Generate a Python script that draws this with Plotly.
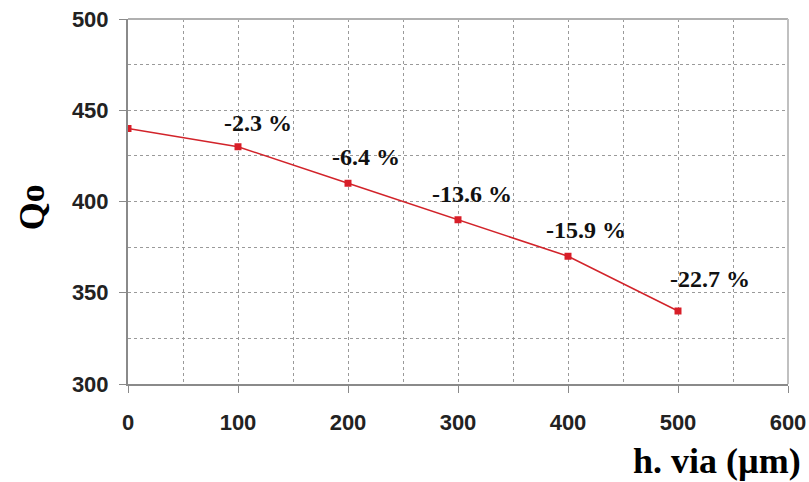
import plotly.graph_objects as go

# Via height (µm) vs unloaded quality factor
h_via = [0, 100, 200, 300, 400, 500]
q0 = [440, 430, 410, 390, 370, 340]
drop_labels = ["", "-2.3 %", "-6.4 %", "-13.6 %", "-15.9 %", "-22.7 %"]

x_ticks = [0, 100, 200, 300, 400, 500, 600]
y_ticks = [300, 350, 400, 450, 500]

# pixel offsets of each percentage label from its point
label_dx = [0, 20, 18, 14, 18, 32]
label_dy = [0, 24, 26, 26, 26, 32]

fig = go.Figure()
fig.add_trace(go.Scatter(
    x=h_via, y=q0, mode="lines+markers",
    line=dict(color="#d2232a", width=1.5),
    marker=dict(color="#d81e28", size=7, symbol="square"),
    showlegend=False,
))

for xv, yv, txt, dx, dy in zip(h_via, q0, drop_labels, label_dx, label_dy):
    if txt:
        fig.add_annotation(
            x=xv, y=yv, text=f"<b>{txt}</b>", showarrow=False,
            xanchor="center", yanchor="middle",
            xshift=dx, yshift=dy,
            font=dict(family="Liberation Serif", size=24, color="#111111"),
        )

grid = dict(showgrid=True, gridcolor="#9a9a9a", griddash="dot", gridwidth=1)
tick_font = dict(family="Liberation Sans", size=22, color="#222222", weight="bold")

fig.update_xaxes(
    range=[0, 600], tickvals=x_ticks, ticktext=[str(v) for v in x_ticks],
    ticks="outside", ticklen=7, tickcolor="#8a8a8a", tickwidth=1,
    ticklabelstandoff=11, tickfont=tick_font, automargin=False,
    showline=True, linecolor="#8a8a8a", linewidth=2,
    minor=dict(dtick=50, tick0=0, showgrid=True, gridcolor="#9a9a9a", griddash="dot"),
    zeroline=False,
    **grid,
)
fig.update_yaxes(
    range=[300, 500], tickvals=y_ticks, ticktext=[str(v) for v in y_ticks],
    ticks="outside", ticklen=7, tickcolor="#8a8a8a", tickwidth=1,
    ticklabelstandoff=6, tickfont=tick_font, automargin=False,
    showline=True, linecolor="#8a8a8a", linewidth=2,
    minor=dict(dtick=25, tick0=300, showgrid=True, gridcolor="#9a9a9a", griddash="dot"),
    zeroline=False,
    **grid,
)

# light frame on top and right
fig.add_shape(type="line", xref="paper", yref="paper", x0=0, x1=1, y0=1, y1=1,
              line=dict(color="#b0b0b0", width=2))
fig.add_shape(type="line", xref="paper", yref="paper", x0=1, x1=1, y0=0, y1=1,
              line=dict(color="#c0c0c0", width=2))

fig.add_annotation(
    xref="paper", yref="paper", x=-0.145, y=0.485, text="<b>Qo</b>",
    textangle=-90, showarrow=False, xanchor="center", yanchor="middle",
    font=dict(family="Liberation Serif", size=36, color="#000000"),
)
fig.add_annotation(
    xref="paper", yref="paper", x=1.023, y=-0.21, text="<b>h. via (µm)</b>",
    showarrow=False, xanchor="right", yanchor="middle",
    font=dict(family="Liberation Serif", size=36, color="#000000"),
)

fig.update_layout(
    width=809, height=482,
    margin=dict(l=128, r=21, t=19, b=98),
    plot_bgcolor="white", paper_bgcolor="white",
)

fig.write_html("out.html")
